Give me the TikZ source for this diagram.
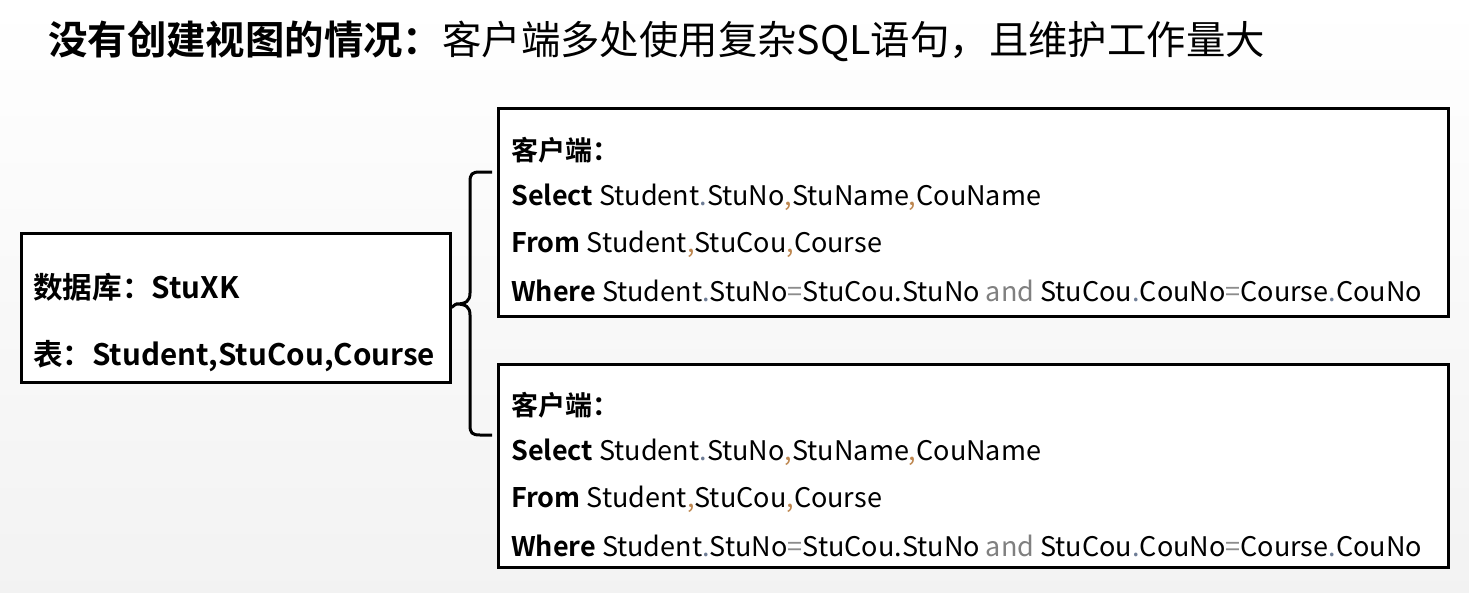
\documentclass[tikz,border=0pt]{standalone}
\usepackage{fontspec}
\setmainfont{Noto Sans CJK SC}[BoldFont={Noto Sans CJK SC Bold}]
\definecolor{dotc}{RGB}{110,125,150}
\definecolor{commac}{RGB}{190,135,80}
\definecolor{eqc}{RGB}{140,140,140}
\definecolor{andc}{RGB}{128,128,128}
\newcommand{\Dt}{{\color{dotc}.}}
\newcommand{\Cm}{{\color{commac},}}
\newcommand{\Eq}{{\color{eqc}=}}
\newcommand{\sqlsel}{\textbf{Select} Student\Dt StuNo\Cm StuName\Cm CouName}
\newcommand{\sqlfrom}{\textbf{From} Student\Cm StuCou\Cm Course}
\newcommand{\sqlwhere}{\textbf{Where} Student\Dt StuNo\Eq StuCou.StuNo {\color{andc}and} StuCou\Dt CouNo\Eq Course\Dt CouNo}
\tikzset{
  box/.style={draw=black, line width=3pt, fill=white, inner sep=0pt},
  txt/.style={anchor=west, inner sep=0pt, font=\fontsize{27}{31}\selectfont},
  dbtxt/.style={anchor=west, inner sep=0pt, font=\fontsize{29.6}{34}\selectfont\bfseries},
  brace/.style={draw=black, line width=3pt, line join=round},
}
\begin{document}
\begin{tikzpicture}[x=1pt,y=-1pt]
\shade[top color=white, middle color=white, bottom color=black!5] (0,0) rectangle (1469,592);
\useasboundingbox (0,0) rectangle (1469,592);
% title
\node[anchor=west, inner sep=0pt, font=\fontsize{39.4}{45}\selectfont] (title) at (48,41)
  {\textbf{没有创建视图的情况：}客户端多处使用复杂SQL语句，且维护工作量大};
% database box
\node[box, minimum width=429pt, minimum height=149pt] (db) at (235.5,307.5) {};
\node[dbtxt] (db1) at (33,287) {数据库：StuXK};
\node[dbtxt] (db2) at (33,356) {表：Student,StuCou,Course};
% client boxes
\node[box, minimum width=950pt, minimum height=208pt] (c1) at (973,212) {};
\node[box, minimum width=950pt, minimum height=203pt] (c2) at (973,465.5) {};
\node[txt] (c1a) at (511,150) {\textbf{客户端：}};
\node[txt] (c1b) at (511,197) {\sqlsel};
\node[txt] (c1c) at (511,244) {\sqlfrom};
\node[txt] (c1d) at (511,291) {\sqlwhere};
\node[txt] (c2a) at (511,405) {\textbf{客户端：}};
\node[txt] (c2b) at (511,452) {\sqlsel};
\node[txt] (c2c) at (511,499) {\sqlfrom};
\node[txt] (c2d) at (511,546) {\sqlwhere};
% brace
\coordinate (btop) at (492,172);
\coordinate (bbot) at (492,435);
\coordinate (cusp) at (456,304);
\draw[brace] (btop) -- (480,172) .. controls (472,172) and (470,174) .. (470,182)
  -- (470,293) .. controls (470,301) and (466,304) .. (cusp)
  .. controls (466,304) and (470,307) .. (470,315)
  -- (470,425) .. controls (470,433) and (472,435) .. (480,435) -- (bbot);
\draw[brace] (db.east) -- (cusp);
\end{tikzpicture}
\end{document}
